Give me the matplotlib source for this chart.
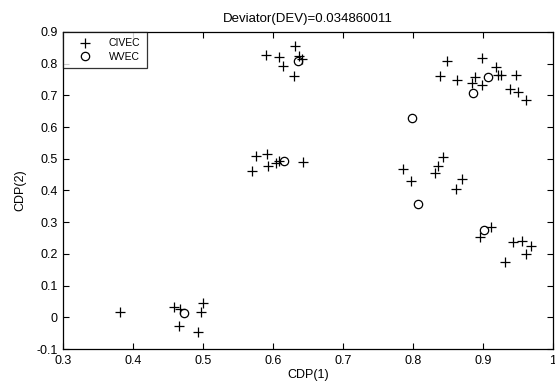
import matplotlib
matplotlib.use("Agg")
import matplotlib.pyplot as plt
import numpy as np

plt.rcParams['font.family'] = ['Liberation Sans', 'DejaVu Sans']

# CIVEC points (CDP(1), CDP(2))
civec_x = [0.590, 0.608, 0.631, 0.637, 0.641, 0.614, 0.630,
           0.576, 0.592, 0.570, 0.593, 0.604, 0.609, 0.643,
           0.849, 0.898, 0.919, 0.838, 0.863, 0.889, 0.884, 0.898,
           0.921, 0.925, 0.947, 0.939, 0.950, 0.962,
           0.843, 0.835, 0.831, 0.785, 0.797, 0.870, 0.861,
           0.896, 0.911, 0.943, 0.955, 0.968, 0.961, 0.932,
           0.381, 0.459, 0.467, 0.500, 0.497, 0.466, 0.493]
civec_y = [0.827, 0.822, 0.857, 0.824, 0.816, 0.793, 0.762,
           0.509, 0.515, 0.462, 0.478, 0.488, 0.494, 0.491,
           0.809, 0.817, 0.791, 0.762, 0.749, 0.757, 0.738, 0.733,
           0.764, 0.764, 0.764, 0.719, 0.710, 0.685,
           0.505, 0.478, 0.456, 0.468, 0.430, 0.436, 0.404,
           0.254, 0.284, 0.238, 0.242, 0.225, 0.200, 0.175,
           0.016, 0.033, 0.025, 0.044, 0.018, -0.027, -0.045]

# WVEC points
wvec_x = [0.635, 0.615, 0.907, 0.885, 0.799, 0.807, 0.901, 0.473]
wvec_y = [0.809, 0.494, 0.757, 0.709, 0.628, 0.356, 0.275, 0.013]

xtick_labels = ['0.3', '0.4', '0.5', '0.6', '0.7', '0.8', '0.9', '1']
ytick_labels = ['-0.1', '0', '0.1', '0.2', '0.3', '0.4', '0.5', '0.6', '0.7', '0.8', '0.9']

fig = plt.figure(figsize=(5.55, 3.85), dpi=100)
ax = fig.add_axes([0.1135, 0.0935, 0.883, 0.8234])

ax.plot(civec_x, civec_y, '+', color='black', markersize=7, markeredgewidth=0.9, label='CIVEC')
ax.plot(wvec_x, wvec_y, 'o', color='black', markerfacecolor='none', markersize=6,
        markeredgewidth=0.9, label='WVEC')

ax.set_xlim(0.3, 1.0)
ax.set_ylim(-0.1, 0.9)
ax.set_xticks(np.arange(0.3, 1.01, 0.1))
ax.set_xticklabels(xtick_labels)
ax.set_yticks(np.arange(-0.1, 0.91, 0.1))
ax.set_yticklabels(ytick_labels)
ax.tick_params(direction='in', top=True, right=True, labelsize=9, length=4)
ax.tick_params(axis='x', pad=4)
ax.tick_params(axis='y', pad=4)
for s in ax.spines.values():
    s.set_linewidth(0.9)

ax.set_xlabel('CDP(1)', fontsize=9, labelpad=2)
ax.set_ylabel('CDP(2)', fontsize=9, labelpad=7)
ax.set_title('Deviator(DEV)=0.034860011', fontsize=9.5, pad=7)

leg = ax.legend(loc='upper left', fontsize=7.5, frameon=True, fancybox=False,
                borderaxespad=0, handlelength=3.0, handletextpad=0.8,
                borderpad=0.6, labelspacing=0.35)
leg.get_frame().set_edgecolor('black')
leg.get_frame().set_linewidth(0.9)

fig.savefig('out.png', dpi=100)
